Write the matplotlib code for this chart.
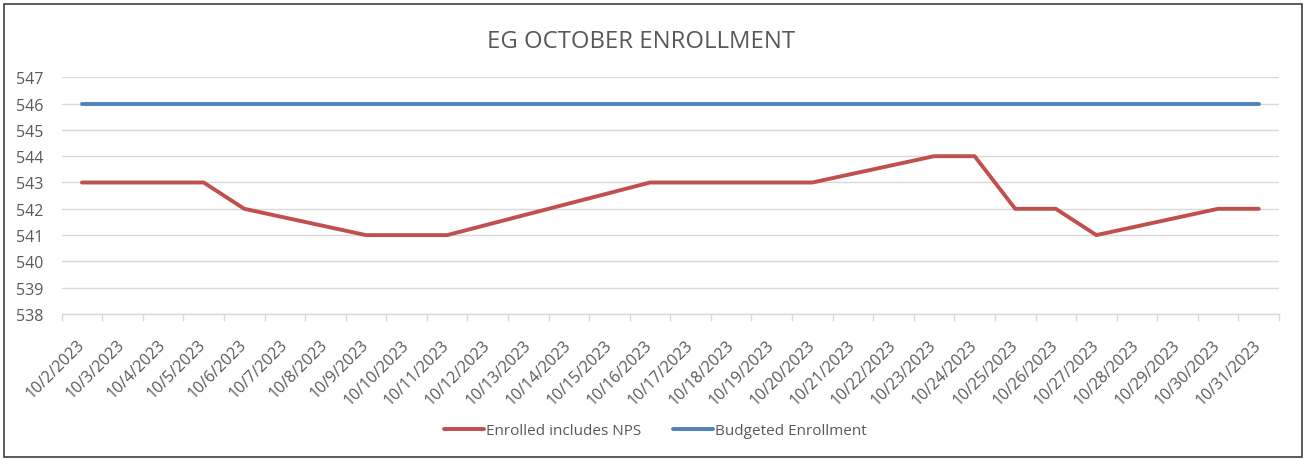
import matplotlib.pyplot as plt
from matplotlib.patches import Rectangle

plt.rcParams['font.family'] = ['Open Sans', 'DejaVu Sans']

# Category axis: every day of the month from 10/2 to 10/31
day_labels = ['10/%d/2023' % d for d in range(2, 32)]

# Days with a recorded value (weekends and a few days have no entry)
data_days = [2, 3, 4, 5, 6, 9, 10, 11, 16, 17, 18, 19, 20, 23, 24, 25, 26, 27, 30, 31]
enrolled = [543, 543, 543, 543, 542, 541, 541, 541, 543, 543, 543, 543, 543,
            544, 544, 542, 542, 541, 542, 542]
budgeted = [546] * len(data_days)

gray_text = '#595959'
grid_color = '#d9d9d9'

fig = plt.figure(figsize=(13.06, 4.6), dpi=100)
ax = fig.add_axes([0.0472, 0.3152, 0.9321, 0.5146])

x_pos = [day_labels.index('10/%d/2023' % d) for d in data_days]
ax.plot(x_pos, enrolled, color='#c0504d', linewidth=2.8, solid_capstyle='round',
        label='Enrolled includes NPS')
ax.plot(x_pos, budgeted, color='#4f81bd', linewidth=2.8, solid_capstyle='round',
        label='Budgeted Enrollment')

ax.set_xlim(-0.5, len(day_labels) - 0.5)
ax.set_ylim(538, 547)
ax.set_yticks(range(538, 548))

# tick marks at the category boundaries, labels at the centres
ax.set_xticks([i - 0.5 for i in range(len(day_labels) + 1)])
ax.set_xticklabels([])
ax.set_xticks(range(len(day_labels)), minor=True)
ax.set_xticklabels(day_labels, minor=True, rotation=45, ha='right',
                   va='center', rotation_mode='anchor')
ax.tick_params(axis='x', which='major', length=5, color=grid_color, width=1)
ax.tick_params(axis='x', which='minor', length=0, pad=20, labelsize=11.5,
               labelcolor=gray_text)
ax.tick_params(axis='y', length=0, pad=13, labelsize=11.5, labelcolor=gray_text)

ax.grid(axis='y', color=grid_color, linewidth=1)
ax.set_axisbelow(True)
for side in ['left', 'right', 'top']:
    ax.spines[side].set_visible(False)
ax.spines['bottom'].set_color(grid_color)
ax.spines['bottom'].set_linewidth(1)

fig.text(0.491, 0.908, 'EG OCTOBER ENROLLMENT', ha='center', va='center',
         fontsize=17.2, color=gray_text)

fig.legend(loc='center', bbox_to_anchor=(0.502, 0.061), ncol=2, frameon=False,
           fontsize=11, handlelength=2.6, handletextpad=0.15, columnspacing=2.1,
           labelcolor=gray_text)

fig.patches.append(Rectangle((4 / 1306, 2 / 460), 1298 / 1306, 453 / 460,
                             transform=fig.transFigure, fill=False,
                             edgecolor='#404040', linewidth=1.2))

fig.savefig('out.png', dpi=100)
